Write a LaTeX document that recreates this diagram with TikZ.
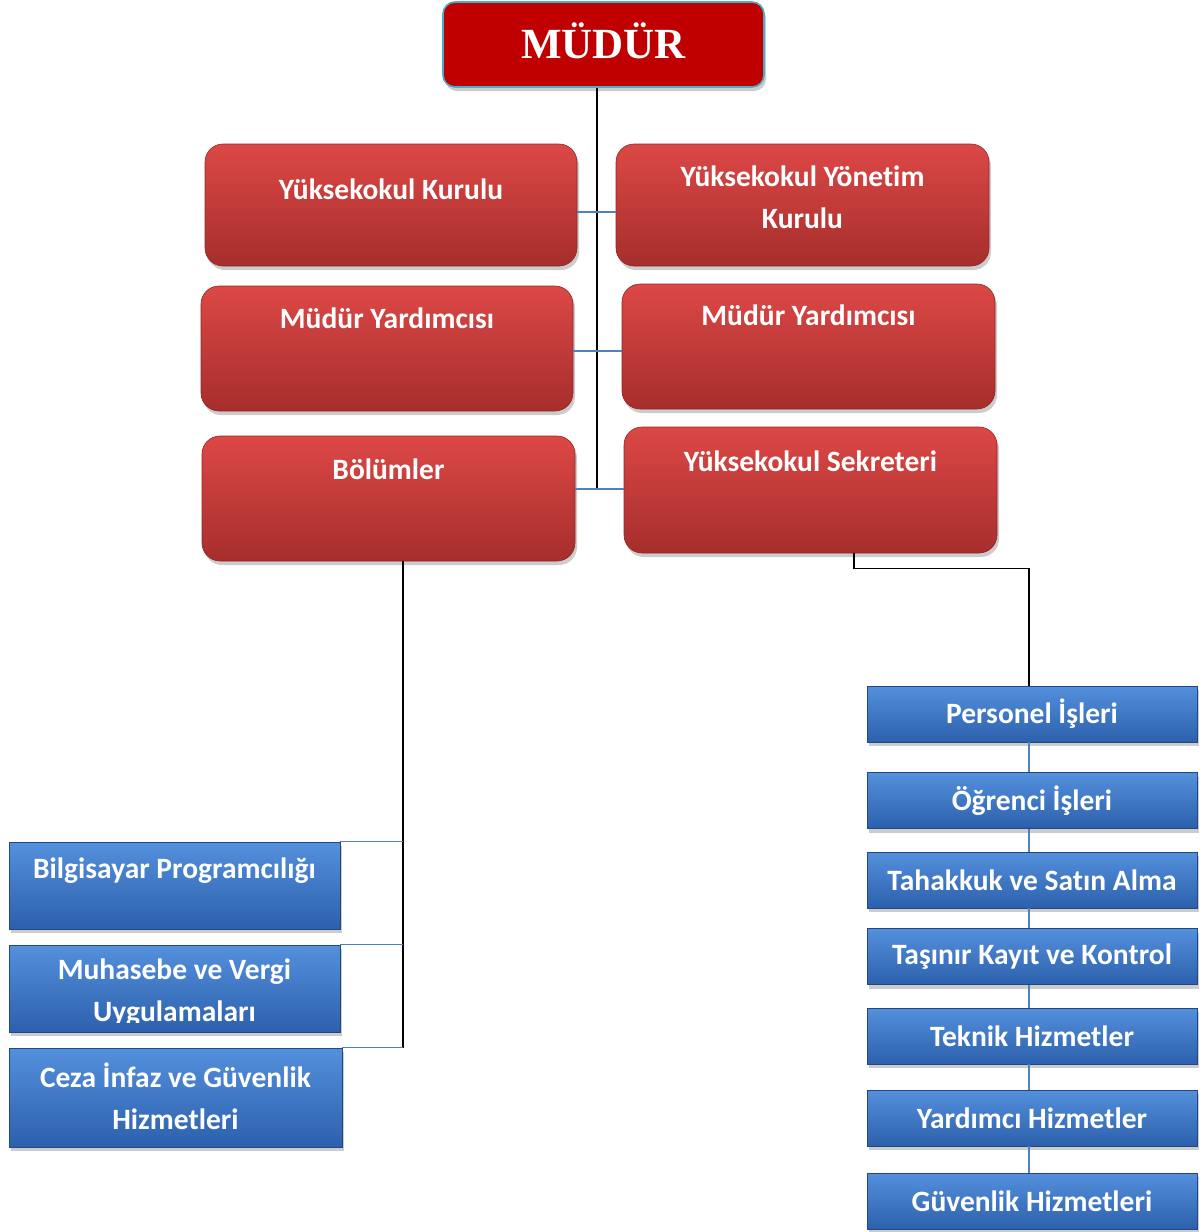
\documentclass[tikz,border=0pt]{standalone}
\usepackage{fontspec}
\setmainfont[Ligatures=NoCommon]{Carlito}
\newfontfamily\timesfont{Liberation Serif}
\usetikzlibrary{shadows}
\definecolor{RT}{RGB}{220, 72, 70}
\definecolor{RB}{RGB}{166, 46, 44}
\definecolor{DR}{RGB}{192, 0, 0}
\definecolor{TB}{RGB}{75, 172, 198}
\definecolor{BT}{RGB}{84, 144, 220}
\definecolor{BB}{RGB}{44, 96, 172}
\definecolor{LN}{RGB}{79, 129, 189}

\begin{document}
\begin{tikzpicture}[x=1pt, y=-1pt,
   mudurbox/.style={rectangle, rounded corners=12pt, fill=DR, draw=TB, line width=1.6pt,
      drop shadow={shadow xshift=2pt, shadow yshift=-4pt, opacity=0.4}, inner sep=0pt},
   redbox/.style={rectangle, rounded corners=18pt, top color=RT, bottom color=RB,
      draw=RB!85!black, line width=0.6pt,
      drop shadow={shadow xshift=2pt, shadow yshift=-4pt, opacity=0.4}, inner sep=0pt},
   bluebox/.style={rectangle, top color=BT, bottom color=BB, draw=BB!75!black, line width=0.8pt,
      drop shadow={shadow xshift=2pt, shadow yshift=-4pt, opacity=0.4}, inner sep=0pt},
   boxtext/.style={text=white, font=\fontsize{29.5}{42}\selectfont\bfseries, align=center, inner sep=0pt},
   kline/.style={black, line width=1.6pt},
   bline/.style={LN, line width=1.6pt}]
   \useasboundingbox (0,0) rectangle (1203,1232);

   % ust kutu
   \node[mudurbox, minimum width=321pt, minimum height=85pt] (mudur) at (603.5,44.5) {};
   \node[text=white, font=\timesfont\fontsize{43}{48}\selectfont\bfseries] (mudur-t) at (603.5,41) {MÜDÜR};

   % kirmizi kutular
   \node[redbox, minimum width=372pt, minimum height=122pt] (kurul) at (391,205) {};
   \node[redbox, minimum width=373pt, minimum height=122pt] (yonetim) at (802.5,205) {};
   \node[redbox, minimum width=372pt, minimum height=125pt] (yard1) at (387,348.5) {};
   \node[redbox, minimum width=373pt, minimum height=125pt] (yard2) at (808.5,346.5) {};
   \node[redbox, minimum width=373pt, minimum height=125pt] (bolum) at (388.5,498.5) {};
   \node[redbox, minimum width=373pt, minimum height=126pt] (sekreter) at (810.5,490) {};
   \node[boxtext] (kurul-t) at ([yshift=-46pt]kurul.north) {Yüksekokul Kurulu};
   \node[boxtext] (yonetim-t) at ([yshift=-54pt]yonetim.north) {Yüksekokul Yönetim\\Kurulu};
   \node[boxtext] (yard1-t) at ([yshift=-33pt]yard1.north) {Müdür Yardımcısı};
   \node[boxtext] (yard2-t) at ([yshift=-32pt]yard2.north) {Müdür Yardımcısı};
   \node[boxtext] (bolum-t) at ([yshift=-34pt]bolum.north) {Bölümler};
   \node[boxtext] (sekreter-t) at ([yshift=-35pt]sekreter.north) {Yüksekokul Sekreteri};

   % bolumler
   \node[bluebox, minimum width=331pt, minimum height=87pt] (bilgisayar) at (174.5,885.5) {};
   \node[bluebox, minimum width=331pt, minimum height=87pt] (muhasebe) at (174.5,988.5) {};
   \node[bluebox, minimum width=333pt, minimum height=99pt] (ceza) at (175.5,1097.5) {};
   \node[boxtext] (bilgisayar-t) at ([yshift=-29pt]bilgisayar.north) {Bilgisayar Programcılığı};
   \begin{scope}
   \clip (muhasebe.north west) rectangle ([yshift=10pt]muhasebe.south east);
   \node[boxtext] (muhasebe-t) at ([yshift=-48pt]muhasebe.north) {Muhasebe ve Vergi\\Uygulamaları};
   \end{scope}
   \node[boxtext] (ceza-t) at ([yshift=-48.5pt]ceza.north) {Ceza İnfaz ve Güvenlik\\Hizmetleri};

   % sekreterlik birimleri
   \node[bluebox, minimum width=330pt, minimum height=56pt, boxtext] (personel) at (1032,714) {Personel İşleri};
   \node[bluebox, minimum width=330pt, minimum height=56pt, boxtext] (ogrenci) at (1032,800.5) {Öğrenci İşleri};
   \node[bluebox, minimum width=330pt, minimum height=56pt, boxtext] (tahakkuk) at (1032,880) {Tahakkuk ve Satın Alma};
   \node[bluebox, minimum width=330pt, minimum height=56pt, boxtext] (tasinir) at (1032,956.5) {Taşınır Kayıt ve Kontrol};
   \node[bluebox, minimum width=330pt, minimum height=56pt, boxtext] (teknik) at (1032,1036) {Teknik Hizmetler};
   \node[bluebox, minimum width=330pt, minimum height=56pt, boxtext] (yardimci) at (1032,1118) {Yardımcı Hizmetler};
   \node[bluebox, minimum width=330pt, minimum height=56pt, boxtext] (guvenlik) at (1032,1201) {Güvenlik Hizmetleri};

   % baglantilar
   \coordinate (omurga) at (597,489);
   \coordinate (dal) at (403,1048);
   \draw[kline] (mudur.south -| omurga) -- (omurga);
   \draw[bline] ([yshift=-7pt]kurul.east) -- ([yshift=-7pt]kurul.east -| yonetim.west);
   \draw[bline] ([yshift=-2.5pt]yard1.east) -- ([yshift=-2.5pt]yard1.east -| yard2.west);
   \draw[bline] (bolum.east |- omurga) -- (sekreter.west |- omurga);
   \draw[kline] ([xshift=43.5pt]sekreter.south) -- ++(0,15) -| ([xshift=-3pt]personel.north);
   \draw[kline] ([xshift=14.5pt]bolum.south) -- (dal);
   \draw[bline] (bilgisayar.north east) -- (bilgisayar.north east -| dal);
   \draw[bline] (muhasebe.north east) -- (muhasebe.north east -| dal);
   \draw[bline] (ceza.north east) -- (ceza.north east -| dal);
   \foreach \a/\b in {personel/ogrenci, ogrenci/tahakkuk, tahakkuk/tasinir,
      tasinir/teknik, teknik/yardimci, yardimci/guvenlik}
      \draw[bline] ([xshift=-3pt]\a.south) -- ([xshift=-3pt]\b.north);
\end{tikzpicture}
\end{document}
